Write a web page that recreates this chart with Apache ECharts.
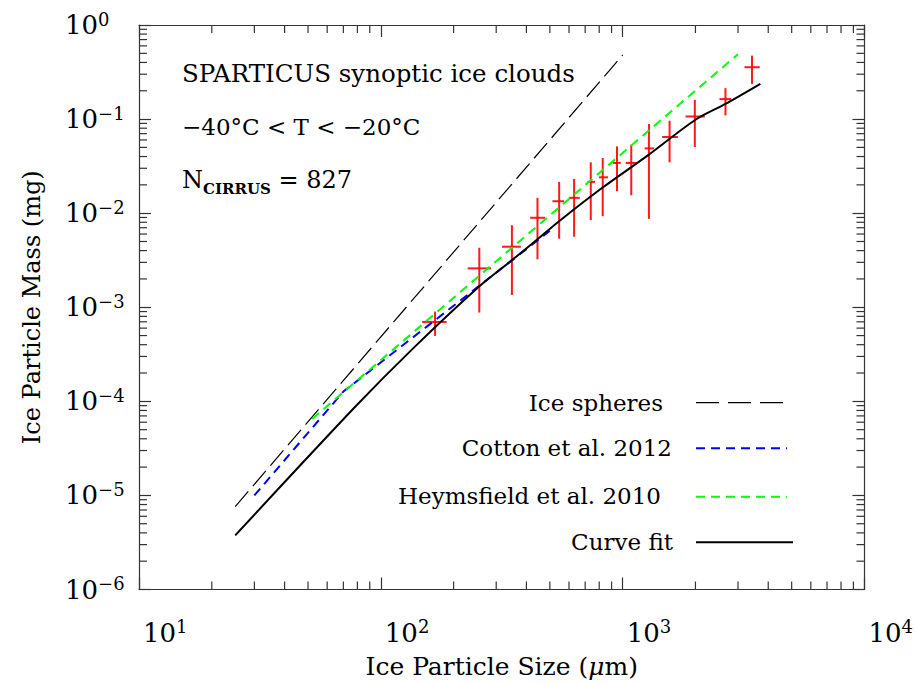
<!DOCTYPE html>
<html><head><meta charset="utf-8">
<script src="https://cdn.jsdelivr.net/npm/echarts@6/dist/echarts.min.js"></script>
<style>html,body{margin:0;padding:0;background:#fff}#c{width:916px;height:684px}</style>
</head><body><div id="c"></div>
<script>
const FONT = 'DejaVu Serif';

// Ice spheres (long dashed)
const sphereD = [25, 1000];
const sphereM = [7.6e-6, 0.48];
// Cotton et al. 2012 (blue dashed)
const cottonD = [30, 70, 500];
const cottonM = [1.0e-5, 1.27e-4, 6.5e-3];
// Heymsfield et al. 2010 (green dashed)
const heymsD = [52, 3000];
const heymsM = [6.5e-5, 0.49];
// Curve fit (black solid)
const fitD = [25, 78, 135, 255, 345, 452, 546, 824, 1284, 2001, 2662, 3712];
const fitM = [3.76e-6, 8.64e-5, 3.59e-4, 1.66e-3, 3.10e-3, 5.48e-3, 8.22e-3, 0.0186, 0.0419, 0.0984, 0.145, 0.237];

// SPARTICUS observations (centre, size bin, mass range)
const obsD   = [167.6, 255.4, 348.4, 444.4, 546.3, 629.9, 738.2, 827.3, 947.5, 1085.6, 1284.5, 1563.5, 1988.4, 2662, 3428];
const obsDlo = [148.2, 228.5, 316.9, 414.6, 512.5, 600.6, 714.7, 798.7, 912.5, 1029.2, 1233, 1457.5, 1820.5, 2515, 3189];
const obsDhi = [187.2, 285.5, 379.6, 478.1, 572.7, 664.8, 768.9, 869.9, 981.5, 1142.5, 1346.7, 1692, 2186.7, 2807, 3688];
const obsM   = [6.98e-4, 2.59e-3, 4.40e-3, 8.93e-3, 0.01339, 0.01455, 0.0215, 0.02405, 0.0342, 0.0342, 0.0488, 0.0645, 0.1066, 0.1631, 0.356];
const obsMlo = [4.96e-4, 8.79e-4, 1.35e-3, 3.23e-3, 5.35e-3, 5.62e-3, 8.42e-3, 9.29e-3, 0.0171, 0.0155, 8.71e-3, 0.0347, 0.0505, 0.1093, 0.2368];
const obsMhi = [9.0e-4, 4.29e-3, 7.45e-3, 0.01455, 0.0215, 0.02313, 0.0347, 0.0386, 0.0513, 0.0534, 0.0886, 0.096, 0.1603, 0.2133, 0.4726];

// axis ranges and tick positions
const xRange = [10, 10000];
const yRange = [1e-6, 1];
const minorMult = [2, 3, 4, 5, 6, 7, 8, 9];
const xDecades = [10, 100, 1000];
const yDecades = [1e-6, 1e-5, 1e-4, 1e-3, 1e-2, 1e-1];

const xMinor = [];
xDecades.forEach(d => minorMult.forEach(m => xMinor.push([m * d, yRange[0]])));
const yMinor = [];
yDecades.forEach(d => minorMult.forEach(m => yMinor.push([xRange[0], m * d])));

const zip = (a, b) => a.map((v, i) => [v, b[i]]);
const obsData = obsD.map((d, i) => [d, obsM[i], obsDlo[i], obsDhi[i], obsMlo[i], obsMhi[i]]);

const AXC = '#333';
function powLabel(v) {
  const e = Math.round(Math.log10(v));
  const s = e < 0 ? '\u2212' + Math.abs(e) : String(e);
  return '{b|10}{s|' + s + '}';
}
const labelRich = {
  b: { fontFamily: FONT, fontSize: 26, lineHeight: 30, color: '#000', verticalAlign: 'middle' },
  s: { fontFamily: FONT, fontSize: 18, lineHeight: 18, color: '#000', verticalAlign: 'top' }
};

const chart = echarts.init(document.getElementById('c'), null, { renderer: 'svg' });

const tickLen = 8;
const option = {
  animation: false,
  backgroundColor: '#fff',
  grid: { left: 139, right: 50, top: 25, bottom: 93 },
  xAxis: [
    {
      type: 'log', logBase: 10, min: xRange[0], max: xRange[1], position: 'bottom',
      axisLine: { lineStyle: { color: AXC, width: 1.2 } },
      axisTick: { inside: true, length: 12, lineStyle: { color: AXC, width: 1.2 } },
      splitLine: { show: false },
      axisLabel: { formatter: powLabel, rich: labelRich, align: 'left', margin: 28, padding: [0, 0, 0, 4], showMinLabel: true, showMaxLabel: true },
      name: '{n|Ice Particle Size (}{i|\u03bc}{n|m)}', nameLocation: 'middle', nameGap: 63,
      nameTextStyle: { rich: {
        n: { fontFamily: FONT, fontSize: 25, lineHeight: 28, color: '#000' },
        i: { fontFamily: FONT, fontSize: 25, lineHeight: 28, color: '#000', fontStyle: 'italic' }
      } }
    },
    {
      type: 'log', logBase: 10, min: xRange[0], max: xRange[1], position: 'top',
      axisLine: { lineStyle: { color: AXC, width: 1.2 } },
      axisTick: { inside: true, length: 12, lineStyle: { color: AXC, width: 1.2 } },
      splitLine: { show: false }, axisLabel: { show: false }
    }
  ],
  yAxis: [
    {
      type: 'log', logBase: 10, min: yRange[0], max: yRange[1], position: 'left',
      axisLine: { lineStyle: { color: AXC, width: 1.2 } },
      axisTick: { inside: true, length: 12, lineStyle: { color: AXC, width: 1.2 } },
      splitLine: { show: false },
      axisLabel: { formatter: powLabel, rich: labelRich, align: 'left', margin: 74, showMinLabel: true, showMaxLabel: true },
      name: 'Ice Particle Mass (mg)', nameLocation: 'middle', nameGap: 95,
      nameTextStyle: { fontFamily: FONT, fontSize: 24, color: '#000' }
    },
    {
      type: 'log', logBase: 10, min: yRange[0], max: yRange[1], position: 'right',
      axisLine: { lineStyle: { color: AXC, width: 1.2 } },
      axisTick: { inside: true, length: 12, lineStyle: { color: AXC, width: 1.2 } },
      splitLine: { show: false }, axisLabel: { show: false }
    }
  ],
  series: [
    {
      type: 'custom', name: 'xminor', data: xMinor, encode: { x: 0, y: 1 }, clip: false, silent: true,
      renderItem: (p, api) => {
        const v = api.value(0);
        const b = api.coord([v, yRange[0]]);
        const t = api.coord([v, yRange[1]]);
        const st = { stroke: AXC, lineWidth: 1.2 };
        return { type: 'group', children: [
          { type: 'line', shape: { x1: b[0], y1: b[1], x2: b[0], y2: b[1] - tickLen }, style: st },
          { type: 'line', shape: { x1: t[0], y1: t[1], x2: t[0], y2: t[1] + tickLen }, style: st }
        ] };
      }
    },
    {
      type: 'custom', name: 'yminor', data: yMinor, encode: { x: 0, y: 1 }, clip: false, silent: true,
      renderItem: (p, api) => {
        const v = api.value(1);
        const l = api.coord([xRange[0], v]);
        const r = api.coord([xRange[1], v]);
        const st = { stroke: AXC, lineWidth: 1.2 };
        return { type: 'group', children: [
          { type: 'line', shape: { x1: l[0], y1: l[1], x2: l[0] + tickLen, y2: l[1] }, style: st },
          { type: 'line', shape: { x1: r[0], y1: r[1], x2: r[0] - tickLen, y2: r[1] }, style: st }
        ] };
      }
    },
    { type: 'line', name: 'Ice spheres', data: zip(sphereD, sphereM), showSymbol: false, symbol: 'none',
      lineStyle: { color: '#000', width: 1.2, type: [20, 7] } },
    { type: 'line', name: 'Cotton et al. 2012', data: zip(cottonD, cottonM), showSymbol: false, symbol: 'none',
      lineStyle: { color: '#0000ff', width: 2, type: [9, 6] } },
    { type: 'line', name: 'Heymsfield et al. 2010', data: zip(heymsD, heymsM), showSymbol: false, symbol: 'none',
      lineStyle: { color: '#00ff00', width: 2, type: [9, 6] } },
    { type: 'line', name: 'Curve fit', data: zip(fitD, fitM), showSymbol: false, symbol: 'none', smooth: 0.3,
      lineStyle: { color: '#000', width: 2 } },
    {
      type: 'custom', name: 'SPARTICUS', data: obsData, encode: { x: 0, y: 1 },
      renderItem: (p, api) => {
        const c = api.coord([api.value(0), api.value(1)]);
        const l = api.coord([api.value(2), api.value(1)]);
        const h = api.coord([api.value(3), api.value(1)]);
        const lo = api.coord([api.value(0), api.value(4)]);
        const hi = api.coord([api.value(0), api.value(5)]);
        const st = { stroke: 'rgba(255,0,0,0.9)', lineWidth: 2 };
        return { type: 'group', children: [
          { type: 'line', shape: { x1: l[0], y1: c[1], x2: h[0], y2: c[1] }, style: st },
          { type: 'line', shape: { x1: c[0], y1: lo[1], x2: c[0], y2: hi[1] }, style: st }
        ] };
      }
    }
  ],
  graphic: [
    { type: 'text', left: 182, top: 61, style: { text: 'SPARTICUS synoptic ice clouds', font: '24.5px "DejaVu Serif"', fill: '#000' } },
    { type: 'text', left: 182, top: 115, style: { text: '\u221240\u00b0C < T < \u221220\u00b0C', font: '23px "DejaVu Serif"', fill: '#000' } },
    { type: 'text', left: 182, top: 168, style: {
        text: '{n|N}{s|CIRRUS}{n| = 827}',
        rich: {
          n: { fontFamily: FONT, fontSize: 24, lineHeight: 32, fill: '#000', verticalAlign: 'middle' },
          s: { fontFamily: FONT, fontSize: 15, lineHeight: 15, fontWeight: 'bold', fill: '#000', verticalAlign: 'bottom' }
        } } },
    // legend
    { type: 'text', x: 663, y: 403, style: { text: 'Ice spheres', font: '23px "DejaVu Serif"', fill: '#000', align: 'right', verticalAlign: 'middle' } },
    { type: 'text', x: 672, y: 448, style: { text: 'Cotton et al. 2012', font: '23px "DejaVu Serif"', fill: '#000', align: 'right', verticalAlign: 'middle' } },
    { type: 'text', x: 661, y: 496, style: { text: 'Heymsfield et al. 2010', font: '23px "DejaVu Serif"', fill: '#000', align: 'right', verticalAlign: 'middle' } },
    { type: 'text', x: 673, y: 542, style: { text: 'Curve fit', font: '23px "DejaVu Serif"', fill: '#000', align: 'right', verticalAlign: 'middle' } },
    { type: 'line', shape: { x1: 696, y1: 402.7, x2: 787, y2: 402.7 }, style: { stroke: '#000', lineWidth: 1.2, lineDash: [23, 9] } },
    { type: 'line', shape: { x1: 696, y1: 448.3, x2: 787, y2: 448.3 }, style: { stroke: '#0000ff', lineWidth: 2, lineDash: [9, 6] } },
    { type: 'line', shape: { x1: 696, y1: 496.7, x2: 787, y2: 496.7 }, style: { stroke: '#00ff00', lineWidth: 2, lineDash: [9, 6] } },
    { type: 'line', shape: { x1: 696, y1: 542.3, x2: 793, y2: 542.3 }, style: { stroke: '#000', lineWidth: 2 } }
  ]
};
chart.setOption(option);
</script>
</body></html>
